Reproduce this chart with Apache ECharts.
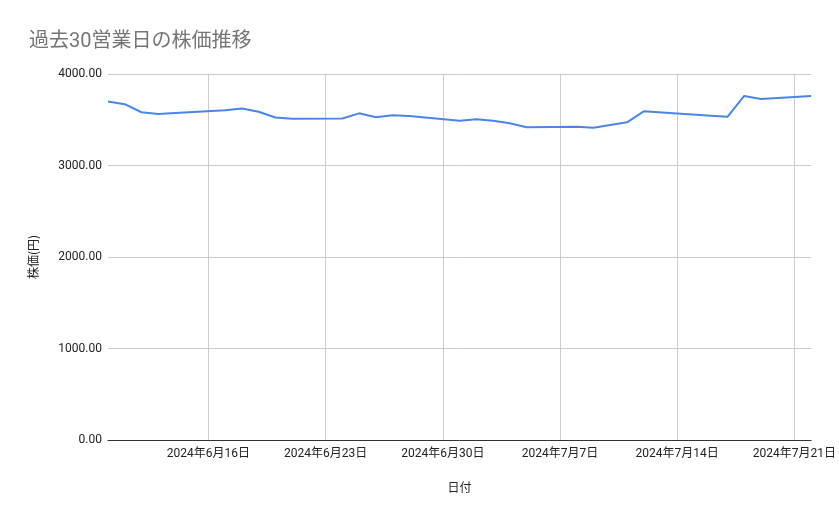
<!DOCTYPE html>
<html>
<head>
<meta charset="utf-8">
<script src="https://cdn.jsdelivr.net/npm/echarts@6/dist/echarts.min.js"></script>
<style>
html,body{margin:0;padding:0;background:#fff;}
#chart{width:839px;height:519px;}
</style>
</head>
<body>
<div id="chart"></div>
<script>
const titleText = '過去30営業日の株価推移';
const xAxisName = '日付';
const yAxisName = '株価(円)';
const dates = ['2024-06-10','2024-06-11','2024-06-12','2024-06-13','2024-06-14',
  '2024-06-17','2024-06-18','2024-06-19','2024-06-20','2024-06-21',
  '2024-06-24','2024-06-25','2024-06-26','2024-06-27','2024-06-28',
  '2024-07-01','2024-07-02','2024-07-03','2024-07-04','2024-07-05',
  '2024-07-08','2024-07-09','2024-07-10','2024-07-11','2024-07-12',
  '2024-07-16','2024-07-17','2024-07-18','2024-07-19','2024-07-22'];
const prices = [3700,3670,3582,3562,3574,
  3605,3622,3588,3524,3512,
  3513,3570,3527,3548,3540,
  3490,3505,3490,3461,3417,
  3424,3413,3443,3472,3592,
  3545,3532,3760,3727,3760];
const tickDates = ['2024-06-16','2024-06-23','2024-06-30','2024-07-07','2024-07-14','2024-07-21'];
const xMinDate = '2024-06-10';
const xMaxDate = '2024-07-22';
const originDate = '2024-06-09';
const yTicks = [0,1000,2000,3000,4000];

function utc(s){ const p = s.split('-').map(Number); return Date.UTC(p[0], p[1]-1, p[2]); }
const ORIGIN = utc(originDate);
function dayNum(s){ return Math.round((utc(s) - ORIGIN) / 86400000); }
function dayLabel(n){ const d = new Date(ORIGIN + n*86400000); return d.getUTCFullYear()+'年'+(d.getUTCMonth()+1)+'月'+d.getUTCDate()+'日'; }
const tickDays = tickDates.map(dayNum);

const chart = echarts.init(document.getElementById('chart'), null, {renderer:'canvas'});
chart.setOption({
  animation:false,
  backgroundColor:'#ffffff',
  textStyle:{fontFamily:'Roboto, "Noto Sans CJK JP", sans-serif'},
  title:{
    text:titleText,
    left:24, top:27,
    textStyle:{fontSize:20, fontWeight:'normal', color:'#757575', fontFamily:'Roboto, "Noto Sans CJK JP", sans-serif'}
  },
  grid:{left:108, right:27, top:74, bottom:79, containLabel:false},
  xAxis:{
    type:'value',
    min:dayNum(xMinDate),
    max:dayNum(xMaxDate),
    name:xAxisName,
    nameLocation:'middle',
    nameGap:41,
    nameTextStyle:{fontSize:12, color:'#222', fontFamily:'"Noto Sans CJK JP", sans-serif'},
    axisLine:{show:true, onZero:false, lineStyle:{color:'#333', width:1}},
    axisTick:{show:false, customValues:tickDays},
    axisLabel:{
      customValues:tickDays,
      fontSize:12, color:'#222', margin:8,
      fontFamily:'Roboto, "Noto Sans CJK JP", sans-serif',
      formatter:function(v){ return dayLabel(v); }
    },
    splitLine:{show:true, lineStyle:{color:'#cccccc', width:1}}
  },
  yAxis:{
    type:'value',
    min:yTicks[0], max:yTicks[yTicks.length-1], interval:1000,
    name:yAxisName,
    nameLocation:'middle',
    nameRotate:90,
    nameGap:69,
    nameTextStyle:{fontSize:12, color:'#222', fontFamily:'"Noto Sans CJK JP", sans-serif'},
    axisLine:{show:false},
    axisTick:{show:false},
    axisLabel:{fontSize:12, color:'#222', margin:6, formatter:function(v){return v.toFixed(2);}},
    splitLine:{show:true, lineStyle:{color:'#cccccc', width:1}}
  },
  series:[{
    type:'line',
    data:dates.map(function(d,i){return [dayNum(d), prices[i]];}),
    showSymbol:false,
    symbol:'none',
    lineStyle:{color:'#4a86e8', width:2},
    itemStyle:{color:'#4a86e8'}
  }]
});
</script>
</body>
</html>
